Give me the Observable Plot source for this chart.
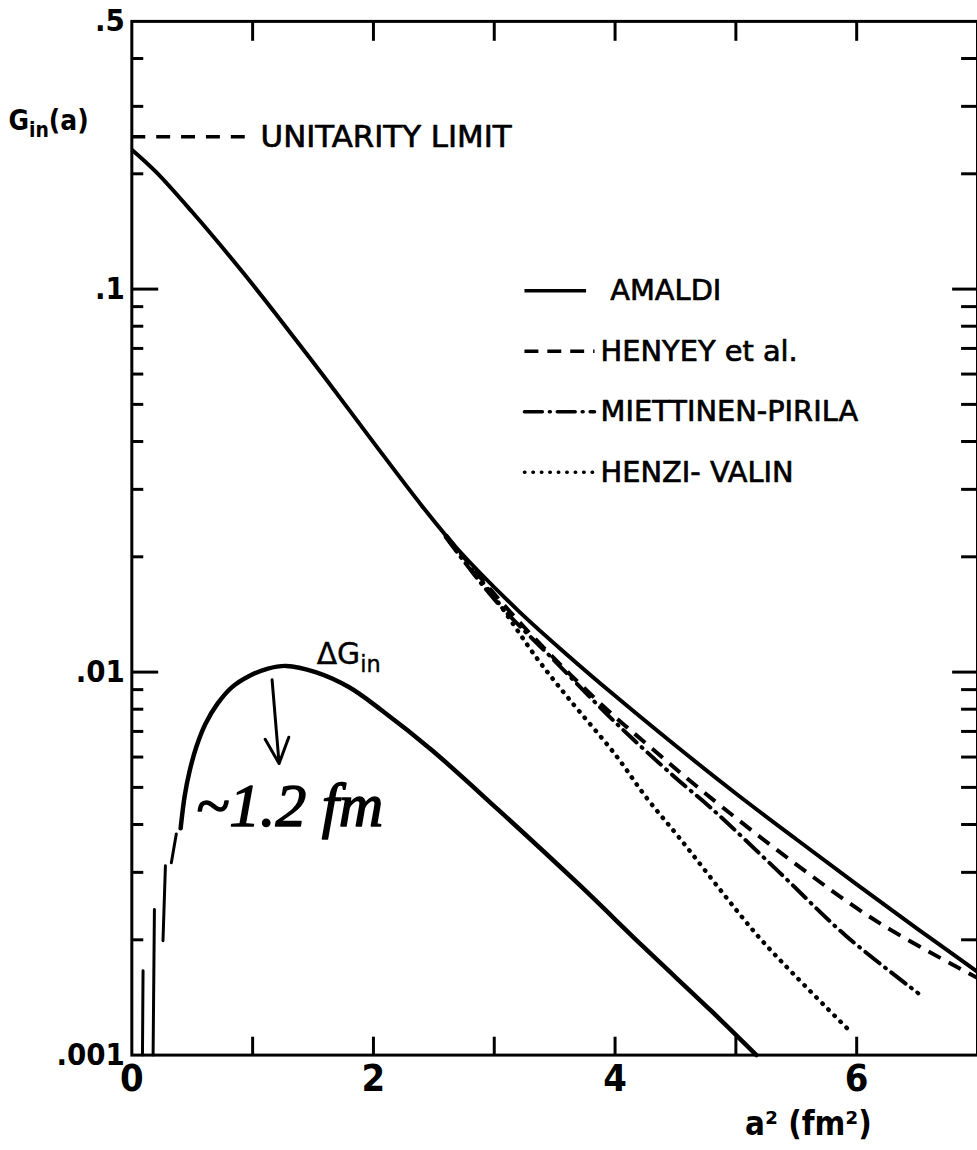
<!DOCTYPE html>
<html>
<head>
<meta charset="utf-8">
<script src="https://cdn.jsdelivr.net/npm/d3@7"></script>
<script src="https://cdn.jsdelivr.net/npm/@observablehq/plot@0.6"></script>
<style>
  html, body { margin: 0; padding: 0; background: #fff; overflow: hidden; }
  #chart { width: 977px; height: 1150px; overflow: hidden; }
</style>
</head>
<body>
<div id="chart"></div>
<script>
// ---------------- data ----------------
const xTickValues = [1, 2, 3, 4, 5, 6];
const xTickLabelValues = [0, 2, 4, 6];
const yTickLabelValues = [0.5, 0.1, 0.01, 0.001];
const yTickLabels = [".5", ".1", ".01", ".001"];
const yMajorTicks = [0.1, 0.01];
const yMinorTicks = [0.002, 0.003, 0.004, 0.005, 0.006, 0.007, 0.008, 0.009,
                     0.02, 0.03, 0.04, 0.05, 0.06, 0.07, 0.08, 0.09,
                     0.2, 0.3, 0.4];

// AMALDI (solid)
const amaldiA2 = [0, 0.2, 0.5, 0.9, 1.2, 1.6, 2.0, 2.4, 2.7, 3.2, 3.6, 4.0, 4.5, 5.0, 5.5, 6.0, 6.5, 7.0];
const amaldiG  = [0.2312, 0.2023, 0.1589, 0.1125, 0.0855, 0.0586, 0.0398, 0.0272, 0.0209, 0.01445, 0.01112, 0.00867, 0.00643, 0.00482, 0.00366, 0.00279, 0.00214, 0.00165];

// HENYEY et al. (dashed)
const henyeyA2 = [2.6, 3.0, 3.43, 3.93, 4.31, 4.72, 5.44, 6.18, 7.0];
const henyeyG  = [0.0228, 0.0160, 0.0114, 0.0080, 0.0063, 0.0049, 0.00325, 0.00222, 0.00159];

// MIETTINEN-PIRILA (dash-dot)
const miettinenA2 = [2.6, 3.0, 3.5, 4.0, 4.5, 4.8, 5.36, 5.91, 6.51];
const miettinenG  = [0.0225, 0.0155, 0.0107, 0.0074, 0.0053, 0.0044, 0.0030, 0.00205, 0.00145];

// HENZI-VALIN (dotted)
const henziA2 = [2.6, 2.74, 3.0, 3.35, 3.62, 4.0, 4.26, 4.53, 5.0, 5.21, 5.5, 5.95];
const henziG  = [0.0226, 0.0198, 0.0157, 0.0109, 0.0085, 0.0061, 0.0047, 0.0037, 0.0024, 0.0020, 0.0016, 0.00115];

// Delta G_in (solid)
const deltaA2 = [0.404, 0.437, 0.478, 0.535, 0.61, 0.708, 0.832, 0.972, 1.12, 1.277, 1.521, 1.796, 2.07, 2.482, 3.03, 3.69, 4.24, 4.79, 5.17];
const deltaG  = [0.00391, 0.00474, 0.00551, 0.00639, 0.00733, 0.00826, 0.00915, 0.00977, 0.0102, 0.01038, 0.0100, 0.00914, 0.00794, 0.00626, 0.00438, 0.00281, 0.00191, 0.00131, 0.00100];

// broken steep start of Delta G_in (four short strokes)
const tailSeg = [0, 0, 1, 1, 2, 2, 3, 3];
const tailA2  = [0.327, 0.368, 0.258, 0.278, 0.176, 0.187, 0.088, 0.093];
const tailG   = [0.00318, 0.00378, 0.00199, 0.00312, 0.0010, 0.00240, 0.0010, 0.00166];

const unitarityLimit = 0.25;
const unitarityEndA2 = 1.0;

const legendNames = ["AMALDI", "HENYEY et al.", "MIETTINEN-PIRILA", "HENZI- VALIN"];

const arrowFrom = {a2: 1.161, g: 0.00955};
const arrowTo   = {a2: 1.219, g: 0.00577};

const texts = {
  yTitle: "G_{in}(a)",
  xTitle: "a² (fm²)",
  unitarity: "UNITARITY LIMIT",
  delta: "ΔG_{in}",
  radius: "~1.2 fm"
};
const deltaLabelAt = {a2: 1.53, g: 0.0105};
const radiusLabelAt = {a2: 0.53, g: 0.00396};

// ---------------- build tables ----------------
const rows = (xs, ys) => xs.map((x, i) => ({a2: x, g: ys[i]}));
const amaldi = rows(amaldiA2, amaldiG);
const henyey = rows(henyeyA2, henyeyG);
const miettinen = rows(miettinenA2, miettinenG);
const henzi = rows(henziA2, henziG);
const delta = rows(deltaA2, deltaG);
const tail = tailA2.map((x, i) => ({a2: x, g: tailG[i], seg: tailSeg[i]}));

// ---------------- layout & styles ----------------
const W = 982, H = 1150;
const M = {left: 132, right: 0, top: 21, bottom: 90};
const innerW = W - M.left - M.right;
const innerH = H - M.top - M.bottom;
const ink = "#000";
const lineFont = "DejaVu Sans";
const numFont = "'DejaVu Sans Condensed', 'Liberation Sans', sans-serif";
const styles = [
  {strokeWidth: 4, strokeDasharray: null, strokeLinecap: "butt"},
  {strokeWidth: 4, strokeDasharray: "14,9", strokeLinecap: "butt"},
  {strokeWidth: 4, strokeDasharray: "18,7,1,7", strokeLinecap: "round"},
  {strokeWidth: 4.5, strokeDasharray: "0.5,8", strokeLinecap: "round"}
];
const legendRowG = (i) => 0.099 * Math.pow(0.695, i);

const seriesMarks = [amaldi, henyey, miettinen, henzi].map((data, i) =>
  Plot.line(data, {x: "a2", y: "g", stroke: ink, curve: "catmull-rom", strokeLinejoin: "round", ...styles[i]})
);

const legendMarks = legendNames.flatMap((name, i) => [
  Plot.link([name], {x1: 3.25, x2: i === 0 ? 3.76 : 3.83, y1: () => legendRowG(i), y2: () => legendRowG(i), stroke: ink, ...styles[i], strokeWidth: 3.5}),
  Plot.text([name], {x: i === 0 ? 3.96 : 3.88, y: () => legendRowG(i), text: d => d, textAnchor: "start", lineAnchor: "middle",
    fontSize: 29, fontFamily: lineFont, fill: ink, stroke: ink, strokeWidth: 0.7,
    letterSpacing: i === 0 ? "4px" : "0px"})
]);

const tick = {stroke: ink, strokeWidth: 3};

const chart = Plot.plot({
  width: W,
  height: H,
  marginLeft: M.left,
  marginRight: M.right,
  marginTop: M.top,
  marginBottom: M.bottom,
  style: {fontFamily: lineFont, background: "#fff", color: ink},
  x: {domain: [0, 7]},
  y: {type: "log", domain: [0.001, 0.5]},
  marks: [
    // inward ticks on all four sides
    Plot.ruleY(yMinorTicks, {insetRight: innerW - 12, ...tick}),
    Plot.ruleY(yMajorTicks, {insetRight: innerW - 27, ...tick}),
    Plot.ruleY(yMinorTicks, {insetLeft: innerW - 16, ...tick}),
    Plot.ruleY(yMajorTicks, {insetLeft: innerW - 25, ...tick}),
    Plot.ruleX(xTickValues, {insetTop: innerH - 18, ...tick}),
    Plot.ruleX(xTickValues, {insetBottom: innerH - 20, ...tick}),
    // tick labels
    Plot.axisY(yTickLabelValues, {anchor: "left", tickSize: 0, tickPadding: 7, label: null,
      tickFormat: (d) => yTickLabels[yTickLabelValues.indexOf(d)],
      fontSize: 31, fontWeight: "bold", fontFamily: numFont, letterSpacing: "-1px"}),
    Plot.axisX(xTickLabelValues, {anchor: "bottom", tickSize: 0, tickPadding: 9, label: null,
      tickFormat: (d) => String(d), fontSize: 38, fontWeight: "bold", fontFamily: numFont}),
    Plot.frame({stroke: ink, strokeWidth: 3}),
    // unitarity limit
    Plot.ruleY([unitarityLimit], {x1: 0, x2: unitarityEndA2, stroke: ink, strokeWidth: 3.5, strokeDasharray: "14,11"}),
    Plot.text([texts.unitarity], {x: unitarityEndA2, y: () => unitarityLimit, text: d => d, dx: 8,
      textAnchor: "start", lineAnchor: "middle", fontSize: 31, fontFamily: lineFont, fill: ink, stroke: ink, strokeWidth: 0.7}),
    // curves
    ...seriesMarks,
    Plot.line(delta, {x: "a2", y: "g", stroke: ink, strokeWidth: 4.5, curve: "catmull-rom", strokeLinejoin: "round"}),
    Plot.line(tail, {x: "a2", y: "g", z: "seg", stroke: ink, strokeWidth: 3}),
    // arrow
    Plot.arrow([arrowFrom], {x1: "a2", y1: "g", x2: () => arrowTo.a2, y2: () => arrowTo.g,
      stroke: ink, strokeWidth: 3, headLength: 22, headAngle: 50}),
    // annotations
    Plot.text([texts.delta], {x: () => deltaLabelAt.a2, y: () => deltaLabelAt.g, text: d => d,
      textAnchor: "start", lineAnchor: "bottom", fontSize: 30, fontFamily: lineFont, fill: ink, stroke: ink, strokeWidth: 0.4}),
    Plot.text([texts.radius], {x: () => radiusLabelAt.a2, y: () => radiusLabelAt.g, text: d => d,
      textAnchor: "start", lineAnchor: "bottom", fontSize: 62, fontStyle: "italic",
      fontFamily: "'Liberation Serif', serif", fill: ink, stroke: ink, strokeWidth: 1.5}),
    // legend
    ...legendMarks,
    // axis titles
    Plot.text([texts.yTitle], {frameAnchor: "top-left", dx: -124, dy: 109, text: d => d,
      textAnchor: "start", lineAnchor: "bottom", fontSize: 28, fontWeight: "bold", fontFamily: numFont, fill: ink}),
    Plot.text([texts.xTitle], {x: () => 5.6, frameAnchor: "bottom", dy: 80, text: d => d,
      textAnchor: "middle", lineAnchor: "bottom", fontSize: 33, fontWeight: "bold", fontFamily: numFont, fill: ink})
  ]
});

// render subscripts written as _{...}
d3.select(chart).selectAll("text").each(function () {
  const s = this.textContent;
  if (!/_\{/.test(s)) return;
  const sel = d3.select(this);
  sel.text(null);
  let afterSub = false;
  s.split(/(_\{[^}]*\})/).filter(Boolean).forEach((p) => {
    if (p.startsWith("_{")) {
      sel.append("tspan").attr("dy", "0.35em").attr("font-size", "75%").text(p.slice(2, -1));
      afterSub = true;
    } else {
      const t = sel.append("tspan").text(p);
      if (afterSub) t.attr("dy", "-0.2625em");
      afterSub = false;
    }
  });
});

document.getElementById("chart").append(chart);
</script>
</body>
</html>
